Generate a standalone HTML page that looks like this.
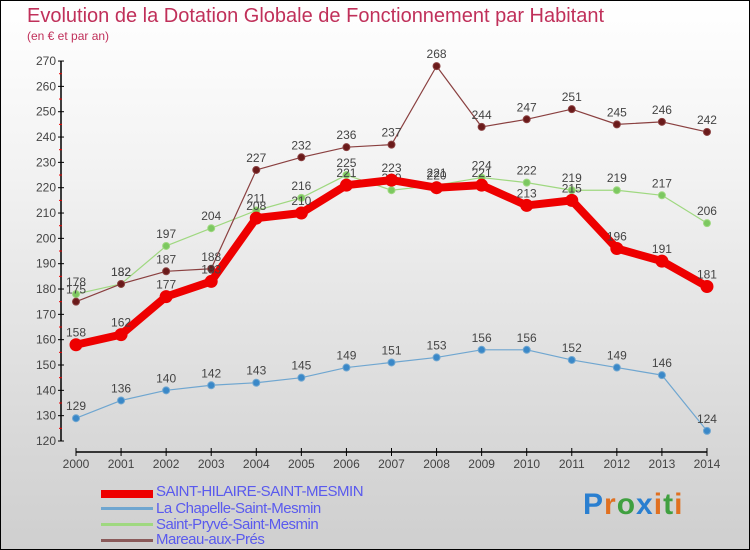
<!DOCTYPE html>
<html><head><meta charset="utf-8"><style>
body{margin:0;width:750px;height:550px;overflow:hidden}
#c{position:relative;width:748px;height:548px;border:1px solid #000;background:linear-gradient(#fff,#f3f3f3 30%,#d8d8d8 80%,#cfcfcf);font-family:"Liberation Sans",sans-serif}
.t{position:absolute;left:26px;top:4px;font-size:20px;color:#c0305a}
.s{position:absolute;left:26px;top:28px;font-size:12px;color:#c0305a}
.lg{position:absolute;left:155px;font-size:15px;color:#5a5aee;letter-spacing:-0.5px}
.sw{position:absolute;left:100px;width:52px}
</style></head><body>
<div id="c">
<div class="t">Evolution de la Dotation Globale de Fonctionnement par Habitant</div>
<div class="s">(en € et par an)</div>
<svg id="g" width="748" height="548" style="position:absolute;left:0;top:0"></svg>
<div class="sw" style="top:489px;height:8px;background:#e00"></div>
<div class="lg" style="top:482px">SAINT-HILAIRE-SAINT-MESMIN</div>
<div class="sw" style="top:506px;height:3px;background:#6fa6d0"></div>
<div class="lg" style="top:499px">La Chapelle-Saint-Mesmin</div>
<div class="sw" style="top:522px;height:3px;background:#9fd880"></div>
<div class="lg" style="top:515px">Saint-Pryvé-Saint-Mesmin</div>
<div class="sw" style="top:538px;height:3px;background:#8a5a5a"></div>
<div class="lg" style="top:530px">Mareau-aux-Prés</div>
<div style="position:absolute;left:582px;top:487px;font-size:30px;font-weight:bold;letter-spacing:1px"><span style="color:#2a7fd0">P</span><span style="color:#e07020">r</span><span style="color:#40a040">o</span><span style="color:#2a7fd0">x</span><span style="color:#e07020">i</span><span style="color:#40a040">t</span><span style="color:#e07020">i</span></div>
</div>
<script>
const years=[2000,2001,2002,2003,2004,2005,2006,2007,2008,2009,2010,2011,2012,2013,2014];
const sHilaire=[158,162,177,183,208,210,221,223,220,221,213,215,196,191,181];
const chapelle=[129,136,140,142,143,145,149,151,153,156,156,152,149,146,124];
const pryve=[178,182,197,204,211,216,225,219,221,224,222,219,219,217,206];
const mareau=[175,182,187,188,227,232,236,237,268,244,247,251,245,246,242];
const yTicks=[120,130,140,150,160,170,180,190,200,210,220,230,240,250,260,270];
const NS="http://www.w3.org/2000/svg";
const g=document.getElementById('g');
const X=i=>75+i*45.07;
const Y=v=>440-(v-120)*2.533;
function mk(t,a,p){const e=document.createElementNS(NS,t);for(const k in a)e.setAttribute(k,a[k]);(p||g).appendChild(e);return e;}
let ax=mk('line',{x1:60,y1:Y(270),x2:60,y2:Y(120),stroke:'#000','stroke-width':1.5});


let xa=mk('line',{x1:75,y1:451,x2:X(14),y2:451,stroke:'#000','stroke-width':1.5});


yTicks.forEach(v=>{
 mk('line',{x1:57,y1:Y(v),x2:63,y2:Y(v),stroke:'#000'});
 if(v<270)mk('line',{x1:58,y1:Y(v+5),x2:61,y2:Y(v+5),stroke:'#e00'});
 const t=mk('text',{x:55,y:Y(v)+4,'text-anchor':'end','font-size':12,fill:'#444'});
 t.textContent=v;
 
 
});
years.forEach((yr,i)=>{
 mk('line',{x1:X(i),y1:447,x2:X(i),y2:455,stroke:'#000'});
 const t=mk('text',{x:X(i),y:467,'text-anchor':'middle','font-size':12,fill:'#444'});
 t.textContent=yr;
 
 
});
function series(d,col,w,r,dot,name){
 const p=mk('polyline',{points:d.map((v,i)=>X(i)+','+Y(v)).join(' '),fill:'none',stroke:col,'stroke-width':w,'stroke-linejoin':'round'});
 
 
 d.forEach((v,i)=>{
  const c=mk('circle',{cx:X(i),cy:Y(v),r:r,fill:dot,stroke:col});
  
  
  const t=mk('text',{x:X(i),y:Y(v)-8,'text-anchor':'middle','font-size':12,fill:'#444'});
  t.textContent=v;
  
  
 });
}
series(chapelle,'#6fa6d0',1.2,3.5,'#3a88c8','la-chapelle');
series(pryve,'#9fd880',1.2,3.5,'#7cc860','saint-pryve');
series(mareau,'#8a4040',1.2,3.5,'#6a1a1a','mareau');
series(sHilaire,'#e00',8,6,'#e00','saint-hilaire');
</script>
</body></html>
